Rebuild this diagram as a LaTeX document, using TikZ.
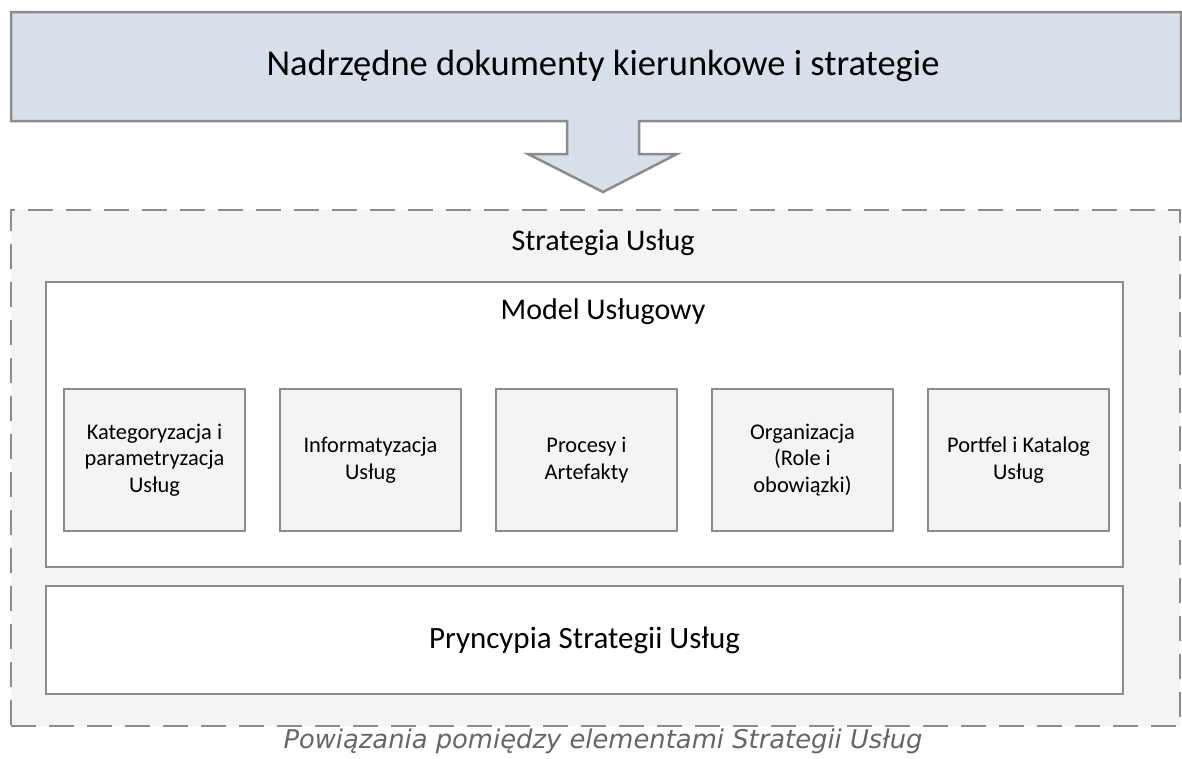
\documentclass[tikz,border=0pt]{standalone}
\usepackage{fontspec}
\setmainfont{Carlito}
\newfontfamily\capfont{DejaVu Sans}
\usepackage{tikz}
\usetikzlibrary{positioning}
\definecolor{bannerfill}{HTML}{D6DFEA}
\definecolor{edgegray}{HTML}{8C8C8C}
\definecolor{panelfill}{HTML}{F4F4F4}
\definecolor{captiongray}{HTML}{666666}
\tikzset{
  frame/.style={draw=edgegray, line width=2.5pt, outer sep=0pt, inner sep=0pt},
  panel/.style={frame, fill=panelfill, dash pattern=on 25pt off 13pt},
  group/.style={frame, fill=white},
  partbox/.style={frame, fill=panelfill, minimum width=181pt, minimum height=142pt,
    align=center, font=\fontsize{22.4}{26.5}\selectfont},
}
\begin{document}
\begin{tikzpicture}[x=1pt, y=-1pt, font=\fontsize{30}{36}\selectfont]
			\useasboundingbox (0,0) rectangle (1182,758);
			\draw[draw=edgegray, fill=bannerfill, line width=2.5pt, line join=miter]
				(11,12) -- (1181,12) -- (1181,121) -- (639,121) -- (639,154) -- (677,154)
				-- (603,192) -- (528,154) -- (567,154) -- (567,121) -- (11,121) -- cycle;
			\node[font=\fontsize{36.5}{44}\selectfont] (top) at (603,66) {Nadrzędne dokumenty kierunkowe i strategie};
			\node[panel, anchor=north west, minimum width=1169pt, minimum height=516pt] (strat) at (11,210) {};
			\node (stratlbl) at (603,243) {Strategia Usług};
			\node[group, anchor=north west, minimum width=1077pt, minimum height=285pt] (model) at (46,282) {};
			\node (modellbl) at (603,312) {Model Usługowy};
			\node[partbox, anchor=north west] (kat) at (64,389) {Kategoryzacja i\\parametryzacja\\Usług};
			\node[partbox, right=35pt of kat] (inf) {Informatyzacja\\Usług};
			\node[partbox, right=35pt of inf] (proc) {Procesy i\\Artefakty};
			\node[partbox, right=35pt of proc] (org) {Organizacja\\(Role i\\obowiązki)};
			\node[partbox, right=35pt of org] (port) {Portfel i Katalog\\Usług};
			\node[group, anchor=north west, minimum width=1077pt, minimum height=108pt,
				font=\fontsize{31}{37}\selectfont] (pryn) at (46,586) {Pryncypia Strategii Usług};
			\node[font=\capfont\itshape\fontsize{25.8}{31}\selectfont, text=captiongray] (cap) at (603,741) {Powiązania pomiędzy elementami Strategii Usług};
		\end{tikzpicture}
\end{document}
